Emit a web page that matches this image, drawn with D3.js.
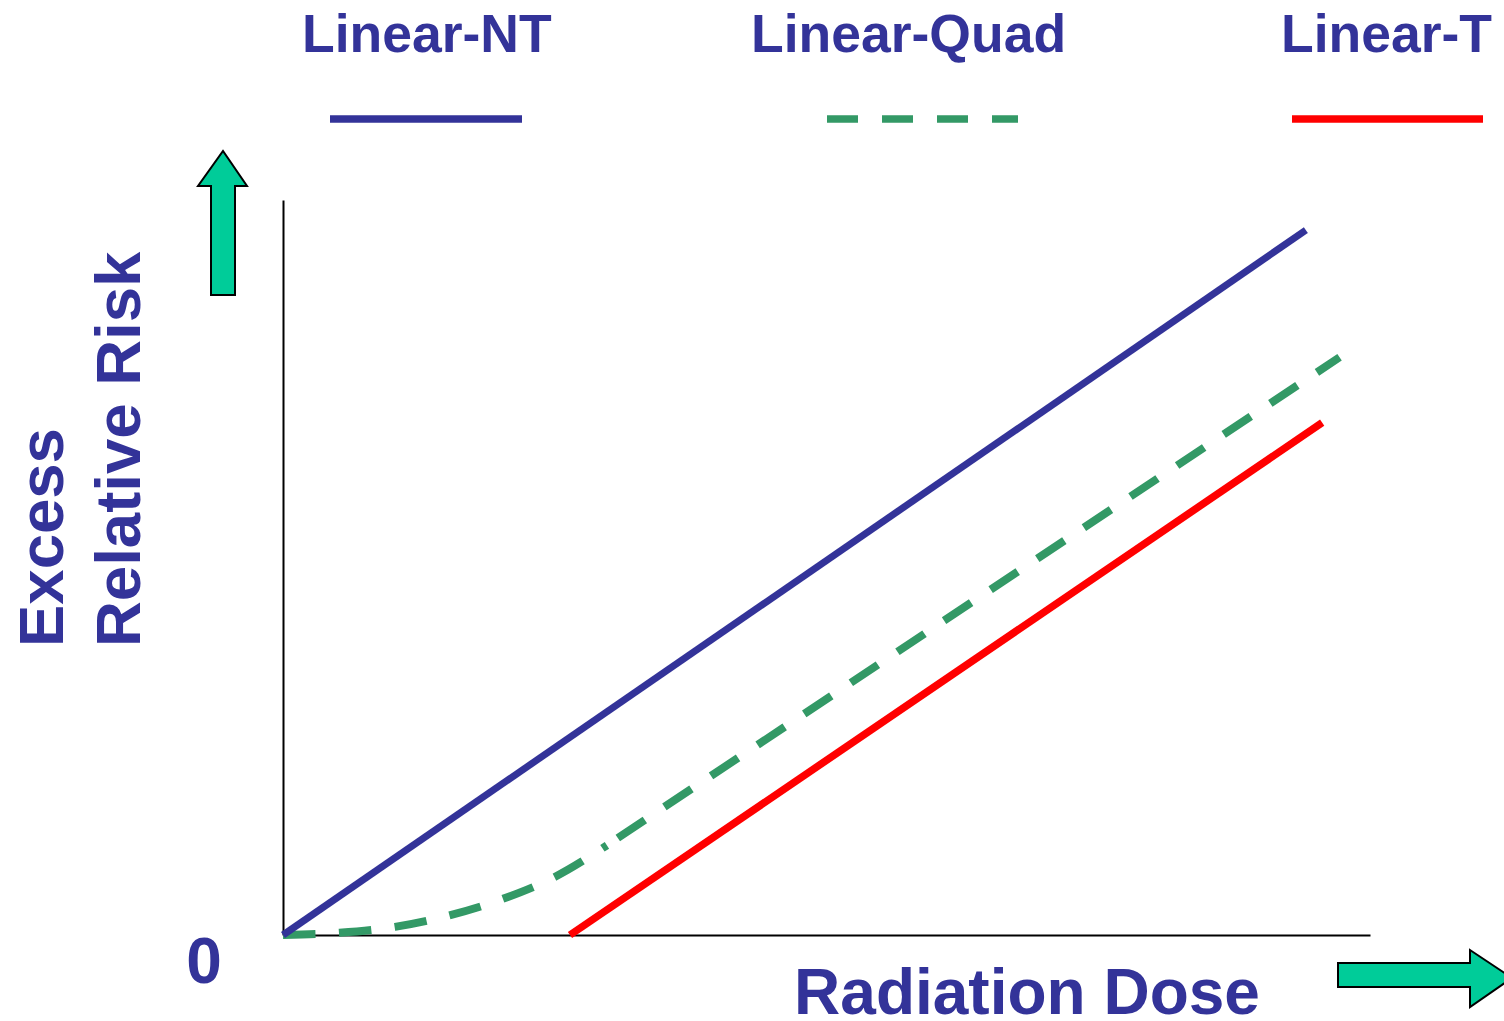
<!DOCTYPE html>
<html>
<head>
<meta charset="utf-8">
<script src="https://cdn.jsdelivr.net/npm/d3@7"></script>
<style>
html,body{margin:0;padding:0;background:#fff;}
svg{display:block;}
text{font-family:"Liberation Sans",Arial,sans-serif;font-weight:bold;fill:#333399;}
</style>
</head>
<body>
<svg id="chart" width="1504" height="1021"></svg>
<script>
// ---- data (dose, excess relative risk) in arbitrary units 0..10 ----
const seriesNames = ["Linear-NT", "Linear-Quad", "Linear-T"];
const seriesColors = ["#333399", "#339966", "#ff0000"];
const linearNT = [[0, 0], [9.41, 9.59]];
const linearQuadCurve = [[0, 0], [0.52, 0.03], [1.03, 0.11], [1.54, 0.27], [2.02, 0.49], [2.50, 0.79], [2.98, 1.22]];
const linearQuadLine = [[3.08, 1.32], [9.72, 7.86]];
const linearT = [[2.64, 0], [9.56, 6.97]];
const xDomain = [0, 10];
const yDomain = [0, 10];
const zeroLabel = "0";
const xTitle = "Radiation Dose";
const yTitle = ["Excess", "Relative Risk"];

const svg = d3.select("#chart");
const x = d3.scaleLinear().domain(xDomain).range([283, 1370]);
const y = d3.scaleLinear().domain(yDomain).range([935, 200]);

// axes (no ticks)
svg.append("g").attr("transform", "translate(0,935)")
  .call(d3.axisBottom(x).tickValues([]).tickSizeOuter(0))
  .call(g => g.select(".domain").attr("stroke", "#000").attr("stroke-width", 2));
svg.append("g").attr("transform", "translate(283,0)")
  .call(d3.axisLeft(y).tickValues([]).tickSizeOuter(0))
  .call(g => g.select(".domain").attr("stroke", "#000").attr("stroke-width", 2));

const line = d3.line().x(d => x(d[0])).y(d => y(d[1]));
const curve = d3.line().x(d => x(d[0])).y(d => y(d[1])).curve(d3.curveMonotoneX);

const dash = "32.5,23.5";
svg.append("path").datum(linearQuadCurve).attr("d", curve)
  .attr("fill", "none").attr("stroke", seriesColors[1]).attr("stroke-width", 8)
  .attr("stroke-dasharray", dash);
svg.append("path").datum(linearQuadLine).attr("d", line)
  .attr("fill", "none").attr("stroke", seriesColors[1]).attr("stroke-width", 8)
  .attr("stroke-dasharray", dash);
svg.append("path").datum(linearT).attr("d", line)
  .attr("fill", "none").attr("stroke", seriesColors[2]).attr("stroke-width", 7.5);
svg.append("path").datum(linearNT).attr("d", line)
  .attr("fill", "none").attr("stroke", seriesColors[0]).attr("stroke-width", 7);

// legend
const legX = [302, 751, 1281];
const legLine = [[330, 522], [827, 1018], [1292, 1483]];
seriesNames.forEach((n, i) => {
  svg.append("text").attr("x", legX[i]).attr("y", 52).attr("font-size", 53.5).text(n);
  const l = svg.append("line").attr("x1", legLine[i][0]).attr("x2", legLine[i][1])
    .attr("y1", 119).attr("y2", 119).attr("stroke", seriesColors[i]).attr("stroke-width", 7.5);
  if (i === 1) l.attr("stroke-dasharray", "31,24");
});

// titles
svg.append("text").attr("x", 1027).attr("y", 1014).attr("text-anchor", "middle")
  .attr("font-size", 64).text(xTitle);
svg.append("text").attr("transform", "translate(63,647) rotate(-90)")
  .attr("font-size", 63.5).text(yTitle[0]);
svg.append("text").attr("transform", "translate(140,647) rotate(-90)")
  .attr("font-size", 63.5).text(yTitle[1]);
svg.append("text").attr("x", 204).attr("y", 983).attr("text-anchor", "middle")
  .attr("font-size", 64).text(zeroLabel);

// arrows
const arrowFill = "#00cc99";
svg.append("path")
  .attr("d", "M211,295 L211,186 L198,186 L223,151 L247,186 L235,186 L235,295 Z")
  .attr("fill", arrowFill).attr("stroke", "#000").attr("stroke-width", 2).attr("stroke-linejoin", "miter");
svg.append("path")
  .attr("d", "M1338,963 L1470,963 L1470,950 L1512,978 L1470,1007 L1470,987 L1338,987 Z")
  .attr("fill", arrowFill).attr("stroke", "#000").attr("stroke-width", 2).attr("stroke-linejoin", "miter");
</script>
</body>
</html>
